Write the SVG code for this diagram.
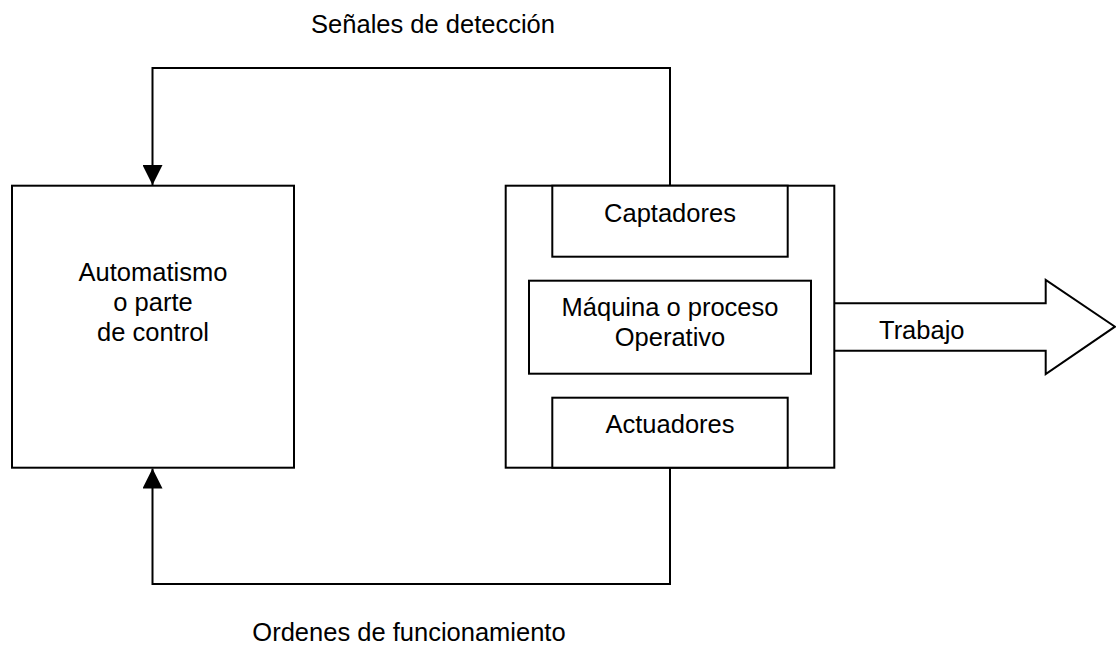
<svg xmlns="http://www.w3.org/2000/svg" width="1116" height="647" viewBox="0 0 1116 647">
<style>
.box{fill:#fff;stroke:#000;stroke-width:2}
.ln{fill:none;stroke:#000;stroke-width:2}
text{font-family:"Liberation Sans",Arial,sans-serif;font-size:25.5px;fill:#000;text-anchor:middle}
</style>
<defs>
<marker id="ah" markerWidth="20" markerHeight="20" viewBox="0 0 20 20" refX="20" refY="10" orient="auto" markerUnits="userSpaceOnUse">
<path d="M0,0 L20,10 L0,20 Z" fill="#000"/>
</marker>
</defs>
<g id="connectors">
<path class="ln" d="M670,185.7 V68 H152.5 V185" marker-end="url(#ah)"/>
<path class="ln" d="M670,467.7 V584 H152.5 V468.5" marker-end="url(#ah)"/>
<text x="433" y="33">Señales de detección</text>
<text x="409" y="641">Ordenes de funcionamiento</text>
</g>
<g id="control">
<rect class="box" x="12" y="185.7" width="282" height="282"/>
<text x="153" y="281">Automatismo</text>
<text x="153" y="311">o parte</text>
<text x="153" y="341">de control</text>
</g>
<g id="proceso">
<rect class="box" x="505.7" y="185.7" width="328.6" height="282"/>
</g>
<g id="captadores">
<rect class="box" x="552.3" y="185.7" width="235.4" height="71"/>
<text x="670" y="222">Captadores</text>
</g>
<g id="maquina">
<rect class="box" x="529" y="280.7" width="282" height="93"/>
<text x="670" y="316">Máquina o proceso</text>
<text x="670" y="346">Operativo</text>
</g>
<g id="actuadores">
<rect class="box" x="552.3" y="397.7" width="235.4" height="70"/>
<text x="670" y="433">Actuadores</text>
</g>
<g id="trabajo">
<path class="ln" d="M834.3,303.3 H1045.7 V280 L1115,326.7 L1045.7,374 V350.7 H834.3"/>
<text x="879" y="339" style="text-anchor:start">Trabajo</text>
</g>
</svg>
